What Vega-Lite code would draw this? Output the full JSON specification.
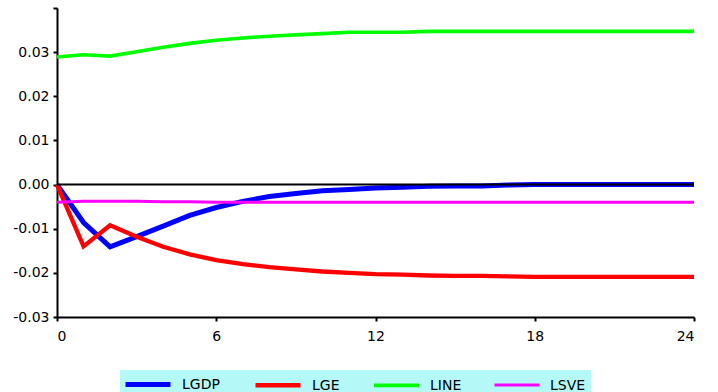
{
  "$schema": "https://vega.github.io/schema/vega-lite/v6.json",
  "width": 637,
  "height": 309,
  "autosize": "none",
  "padding": {"left": 57, "top": 8, "right": 24, "bottom": 75},
  "background": "white",
  "config": {
    "view": {"stroke": null},
    "font": "DejaVu Sans"
  },
  "datasets": {
    "irf": [
      {"t":0,"series":"LGDP","v":0},{"t":1,"series":"LGDP","v":-0.0086},{"t":2,"series":"LGDP","v":-0.0141},{"t":3,"series":"LGDP","v":-0.0118},{"t":4,"series":"LGDP","v":-0.0094},{"t":5,"series":"LGDP","v":-0.0070},{"t":6,"series":"LGDP","v":-0.0052},{"t":7,"series":"LGDP","v":-0.0038},{"t":8,"series":"LGDP","v":-0.0027},{"t":9,"series":"LGDP","v":-0.0020},{"t":10,"series":"LGDP","v":-0.0014},{"t":11,"series":"LGDP","v":-0.0011},{"t":12,"series":"LGDP","v":-0.0008},{"t":13,"series":"LGDP","v":-0.0006},{"t":14,"series":"LGDP","v":-0.0004},{"t":15,"series":"LGDP","v":-0.0003},{"t":16,"series":"LGDP","v":-0.0003},{"t":17,"series":"LGDP","v":-0.0001},{"t":18,"series":"LGDP","v":0},{"t":19,"series":"LGDP","v":0},{"t":20,"series":"LGDP","v":0},{"t":21,"series":"LGDP","v":0},{"t":22,"series":"LGDP","v":0},{"t":23,"series":"LGDP","v":0},{"t":24,"series":"LGDP","v":0},
      {"t":0,"series":"LGE","v":0},{"t":1,"series":"LGE","v":-0.0140},{"t":2,"series":"LGE","v":-0.0092},{"t":3,"series":"LGE","v":-0.0118},{"t":4,"series":"LGE","v":-0.0141},{"t":5,"series":"LGE","v":-0.0158},{"t":6,"series":"LGE","v":-0.0171},{"t":7,"series":"LGE","v":-0.0180},{"t":8,"series":"LGE","v":-0.0187},{"t":9,"series":"LGE","v":-0.0192},{"t":10,"series":"LGE","v":-0.0197},{"t":11,"series":"LGE","v":-0.0200},{"t":12,"series":"LGE","v":-0.0203},{"t":13,"series":"LGE","v":-0.0204},{"t":14,"series":"LGE","v":-0.0206},{"t":15,"series":"LGE","v":-0.0207},{"t":16,"series":"LGE","v":-0.0207},{"t":17,"series":"LGE","v":-0.0208},{"t":18,"series":"LGE","v":-0.0209},{"t":19,"series":"LGE","v":-0.0209},{"t":20,"series":"LGE","v":-0.0209},{"t":21,"series":"LGE","v":-0.0209},{"t":22,"series":"LGE","v":-0.0209},{"t":23,"series":"LGE","v":-0.0209},{"t":24,"series":"LGE","v":-0.0209},
      {"t":0,"series":"LINE","v":0.0289},{"t":1,"series":"LINE","v":0.0294},{"t":2,"series":"LINE","v":0.0291},{"t":3,"series":"LINE","v":0.0301},{"t":4,"series":"LINE","v":0.0311},{"t":5,"series":"LINE","v":0.0320},{"t":6,"series":"LINE","v":0.0327},{"t":7,"series":"LINE","v":0.0332},{"t":8,"series":"LINE","v":0.0336},{"t":9,"series":"LINE","v":0.0339},{"t":10,"series":"LINE","v":0.0342},{"t":11,"series":"LINE","v":0.0345},{"t":12,"series":"LINE","v":0.0345},{"t":13,"series":"LINE","v":0.0345},{"t":14,"series":"LINE","v":0.0347},{"t":15,"series":"LINE","v":0.0347},{"t":16,"series":"LINE","v":0.0347},{"t":17,"series":"LINE","v":0.0347},{"t":18,"series":"LINE","v":0.0347},{"t":19,"series":"LINE","v":0.0347},{"t":20,"series":"LINE","v":0.0347},{"t":21,"series":"LINE","v":0.0347},{"t":22,"series":"LINE","v":0.0347},{"t":23,"series":"LINE","v":0.0347},{"t":24,"series":"LINE","v":0.0347},
      {"t":0,"series":"LSVE","v":-0.0040},{"t":1,"series":"LSVE","v":-0.0038},{"t":2,"series":"LSVE","v":-0.0038},{"t":3,"series":"LSVE","v":-0.0038},{"t":4,"series":"LSVE","v":-0.0039},{"t":5,"series":"LSVE","v":-0.0039},{"t":6,"series":"LSVE","v":-0.0040},{"t":7,"series":"LSVE","v":-0.0040},{"t":8,"series":"LSVE","v":-0.0040},{"t":9,"series":"LSVE","v":-0.0040},{"t":10,"series":"LSVE","v":-0.0040},{"t":11,"series":"LSVE","v":-0.0040},{"t":12,"series":"LSVE","v":-0.0040},{"t":13,"series":"LSVE","v":-0.0040},{"t":14,"series":"LSVE","v":-0.0040},{"t":15,"series":"LSVE","v":-0.0040},{"t":16,"series":"LSVE","v":-0.0040},{"t":17,"series":"LSVE","v":-0.0040},{"t":18,"series":"LSVE","v":-0.0040},{"t":19,"series":"LSVE","v":-0.0040},{"t":20,"series":"LSVE","v":-0.0040},{"t":21,"series":"LSVE","v":-0.0040},{"t":22,"series":"LSVE","v":-0.0040},{"t":23,"series":"LSVE","v":-0.0040},{"t":24,"series":"LSVE","v":-0.0040}
    ]
  },
  "layer": [
    {
      "data": {"name": "irf"},
      "mark": {"type": "line", "strokeCap": "butt", "strokeJoin": "miter"},
      "encoding": {
        "x": {
          "field": "t", "type": "quantitative",
          "scale": {"domain": [0, 24], "nice": false, "zero": false},
          "axis": {
            "title": null, "grid": false, "values": [0, 6, 12, 18, 24],
            "domainColor": "black", "domainWidth": 2, "tickColor": "black", "tickWidth": 2, "tickSize": 4,
            "labelColor": "black", "labelFont": "DejaVu Sans", "labelFontSize": 14, "labelPadding": 8
          }
        },
        "y": {
          "field": "v", "type": "quantitative",
          "scale": {"domain": [-0.03, 0.04], "nice": false, "zero": false},
          "axis": {
            "title": null, "grid": false,
            "values": [-0.03, -0.025, -0.02, -0.015, -0.01, -0.005, 0, 0.005, 0.01, 0.015, 0.02, 0.025, 0.03, 0.035, 0.04],
            "labelExpr": "(abs(datum.value * 100 - round(datum.value * 100)) < 0.000001 && datum.value < 0.035) ? replace(format(datum.value, '.2f'), '\u2212', '-') : ''",
            "domainColor": "black", "domainWidth": 2, "tickColor": "black", "tickWidth": 2, "tickSize": 4,
            "labelColor": "black", "labelFont": "DejaVu Sans", "labelFontSize": 14, "labelPadding": 4
          }
        },
        "color": {
          "field": "series", "type": "nominal",
          "scale": {"domain": ["LGDP", "LGE", "LINE", "LSVE"], "range": ["#0000ff", "#ff0000", "#00ff00", "#ff00ff"]},
          "legend": {
            "title": null, "orient": "none", "direction": "horizontal",
            "legendX": 63, "legendY": 362,
            "symbolType": "M-3,-0.12H3", "symbolSize": 225, "symbolOffset": 13,
            "fillColor": "#b4f8f8", "padding": 5,
            "columnPadding": 26, "labelOffset": 24, "labelBaseline": "middle",
            "labelFont": "DejaVu Sans", "labelFontSize": 14, "labelColor": "black"
          }
        },
        "strokeWidth": {
          "field": "series", "type": "nominal",
          "scale": {"domain": ["LGDP", "LGE", "LINE", "LSVE"], "range": [5, 3, 2, 2]}
        }
      }
    },
    {
      "data": {"values": [{"z": 0}]},
      "mark": {"type": "rule", "color": "black", "strokeWidth": 2},
      "encoding": {"y": {"field": "z", "type": "quantitative"}}
    }
  ]
}
